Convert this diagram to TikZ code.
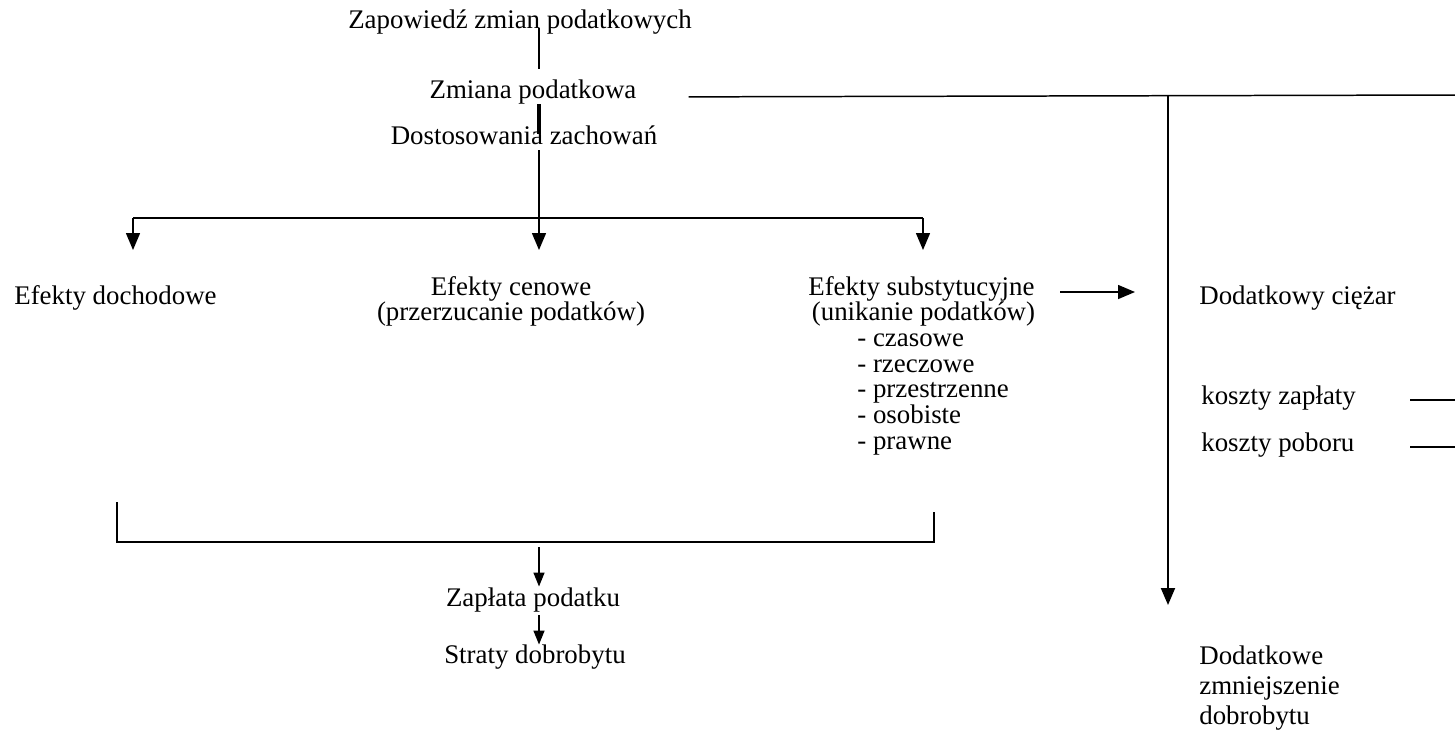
\documentclass[tikz,border=0pt]{standalone}
\usepackage{fontspec}
\setmainfont{Liberation Serif}
\usetikzlibrary{arrows.meta,positioning,calc}

\begin{document}
\begin{tikzpicture}[x=0.02cm,y=-0.02cm,
    lbl/.style={inner sep=0pt,font=\fontsize{15.3}{14.6}\selectfont,text height=0.69em,text depth=0.22em},
    blk/.style={inner sep=0pt,font=\fontsize{15.3}{14.6}\selectfont,align=left},
    ln/.style={line width=0.85pt},
    arr/.style={line width=0.85pt,-{Triangle[width=0.28cm,length=0.34cm]}},
    sarr/.style={line width=0.85pt,-{Triangle[width=0.22cm,length=0.28cm]}}]

  \useasboundingbox (0,0) rectangle (1455,731);

  % main column
  \coordinate (spine) at (539,0);
  \node[lbl,anchor=base] (zapow) at (520,28) {Zapowiedź zmian podatkowych};
  \node[lbl,anchor=base] (zmiana) at (533,98) {Zmiana podatkowa};
  \node[lbl,anchor=base] (dostos) at (524,144) {Dostosowania zachowań};

  % three effects
  \node[lbl,anchor=base west] (dochod) at (14,304) {Efekty dochodowe};
  \node[blk,align=center,anchor=north] (cenowe) at (511,276) {Efekty cenowe\\(przerzucanie podatków)};
  \node[blk,anchor=north west] (substyt) at (808,276) {Efekty substytucyjne\\
    \hspace*{2pt}(unikanie podatków)\\
    \hspace*{0.98cm}- czasowe\\
    \hspace*{0.98cm}- rzeczowe\\
    \hspace*{0.98cm}- przestrzenne\\
    \hspace*{0.98cm}- osobiste\\
    \hspace*{0.98cm}- prawne};

  % right side
  \node[lbl,anchor=base west] (ciezar) at (1199,304) {Dodatkowy ciężar};
  \node[lbl,anchor=base west] (kzaplaty) at (1201,404) {koszty zapłaty};
  \node[lbl,anchor=base west] (kpoboru) at (1201,451) {koszty poboru};
  \node[blk,font=\fontsize{15.3}{17.3}\selectfont,anchor=north west] (zmniejsz) at (1199,645) {Dodatkowe\\zmniejszenie\\dobrobytu};

  % bottom
  \node[lbl,anchor=base] (zaplata) at (533,606) {Zapłata podatku};
  \node[lbl,anchor=base] (straty) at (535,663) {Straty dobrobytu};

  \coordinate (bl) at (133,218);
  \coordinate (br) at (923,218);
  \coordinate (jn) at (1168,95);
  \coordinate (rend) at (1455,95);
  \coordinate (kx) at (1410,0);
  \coordinate (brL) at (117,542);
  \coordinate (brR) at (934,542);

  \draw[ln] ($(zapow.south -| spine)+(0,-4)$) -- ($(zmiana.north -| spine)+(0,-17)$);
  \draw[line width=2pt] ($(zmiana.south -| spine)+(0,2)$) -- ($(dostos.north -| spine)+(0,2)$);
  \draw[arr] ($(dostos.south -| spine)+(0,2)$) -- ($(cenowe.north -| spine)+(0,-26)$);
  \draw[ln] (bl) -- (br);
  \draw[arr] (bl) -- ++(0,32);
  \draw[arr] (br) -- ++(0,32);

  \draw[ln] ($(zmiana.east)+(52,3)$) -- (rend);
  \draw[arr,line width=1.1pt] (jn) -- ($(zmniejsz.north -| jn)+(0,-40)$);
  \draw[arr] ($(substyt.north east)+(25,16)$) -- ($(ciezar.west |- substyt.north east)+(-64,16)$);
  \draw[ln] (kzaplaty.east -| kx) -- (kzaplaty.east -| rend);
  \draw[ln] (kpoboru.east -| kx) -- (kpoboru.east -| rend);

  \draw[ln] ($(brL)+(0,-40)$) -- (brL) -- (brR) -- ($(brR)+(0,-30)$);
  \draw[sarr] ($(spine |- brL)+(0,5)$) -- ($(zaplata.north -| spine)+(0,-7)$);
  \draw[sarr] ($(zaplata.south -| spine)+(0,5)$) -- ($(straty.north -| spine)+(0,-6)$);
\end{tikzpicture}
\end{document}
